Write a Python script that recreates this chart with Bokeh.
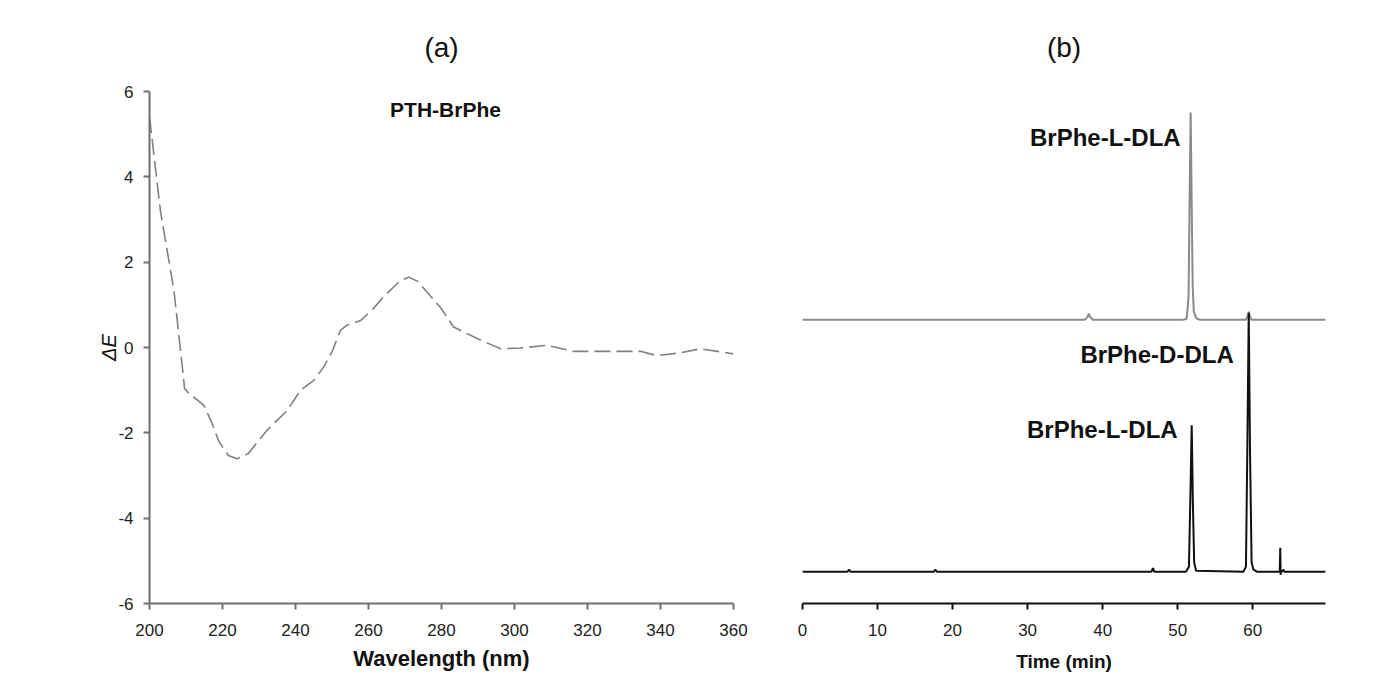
from bokeh.plotting import figure
from bokeh.layouts import row
from bokeh.models import Range1d, FixedTicker, ColumnDataSource
from bokeh.core.properties import value
from bokeh.embed import file_html
from bokeh.resources import INLINE

FONT = "Liberation Sans"

# ---------------- (a) CD spectrum data ----------------
wavelength = [200, 203, 206.7, 208.8, 209.6, 211, 213, 215, 217, 219, 221.6, 224, 227,
              232.2, 237.7, 241.4, 245, 247.7, 250, 252.3, 254, 257.8, 261, 264,
              268.5, 271, 273.5, 276, 279.7, 283.3, 289.8, 296.2, 301.6, 309, 316.2,
              325, 334.5, 339, 345, 351, 360]
delta_e = [5.4, 3.2, 1.33, -0.3, -0.96, -1.1, -1.22, -1.37, -1.75, -2.2, -2.53, -2.61, -2.49,
           -1.94, -1.48, -1.0, -0.77, -0.46, -0.1, 0.40, 0.52, 0.63, 0.88, 1.18,
           1.55, 1.65, 1.55, 1.3, 0.94, 0.48, 0.21, -0.03, -0.01, 0.05, -0.09,
           -0.09, -0.09, -0.19, -0.13, -0.03, -0.15]
cd_ticks_x = [200, 220, 240, 260, 280, 300, 320, 340, 360]
cd_ticks_y = [-6, -4, -2, 0, 2, 4, 6]
cd_label = ["PTH-BrPhe"]
cd_label_x = [281.1]
cd_label_y = [5.57]

# ---------------- (b) chromatograms ----------------
time_top = [0, 37.6, 38.0, 38.15, 38.3, 38.7, 50.7, 51.2, 51.45, 51.6, 51.73, 51.85, 52.0,
            52.15, 52.5, 53.0, 59.1, 59.35, 59.47, 59.6, 59.85, 69.7]
signal_top = [55.4, 55.4, 56.0, 56.6, 56.0, 55.4, 55.4, 55.6, 60.0, 80.0, 95.9, 80.0, 62.0,
              57.0, 55.7, 55.4, 55.4, 56.2, 57.0, 56.2, 55.4, 55.4]

time_bottom = [0, 6.0, 6.2, 6.4, 17.5, 17.7, 17.9, 45.0, 46.5, 46.7, 46.9, 51.1, 51.5,
               51.68, 51.87, 52.02, 52.2, 52.45, 58.75, 59.1, 59.28, 59.47, 59.64, 59.85,
               60.1, 60.6, 63.6, 63.67, 63.72, 63.78, 63.9, 64.1, 64.2, 69.7]
signal_bottom = [6.2, 6.2, 6.6, 6.2, 6.2, 6.6, 6.2, 6.2, 6.2, 6.9, 6.2, 6.2, 7.2,
                 20.0, 34.8, 20.0, 8.0, 6.4, 6.2, 7.2, 30.0, 56.8, 30.0, 8.0,
                 6.6, 6.2, 6.2, 10.9, 5.6, 6.4, 6.2, 6.6, 6.2, 6.2]
time_ticks = [0, 10, 20, 30, 40, 50, 60]
peak_labels = ["BrPhe-L-DLA", "BrPhe-D-DLA", "BrPhe-L-DLA"]
peak_label_x = [50.4, 57.47, 50.0]
peak_label_y = [91.05, 48.6, 34.0]


def style_axis(ax, color, label_size="17px"):
    ax.axis_line_color = color
    ax.axis_line_width = 2
    ax.major_tick_line_color = color
    ax.major_tick_line_width = 2
    ax.major_tick_out = 6
    ax.major_tick_in = 0
    ax.minor_tick_line_color = None
    ax.major_label_text_font = FONT
    ax.major_label_text_font_size = label_size
    ax.major_label_text_color = "#222222"
    ax.major_label_standoff = 14
    ax.axis_label_text_font = FONT
    ax.axis_label_text_color = "#111111"


# ---------- panel (a) ----------
p1 = figure(width=763, height=675, x_range=Range1d(200, 360), y_range=Range1d(-6, 6),
            output_backend="svg", toolbar_location=None,
            min_border_left=149, min_border_right=30, min_border_top=91, min_border_bottom=72)
p1.outline_line_color = None
p1.grid.visible = False
p1.title.text = "(a)"
p1.title.align = "center"
p1.title.text_font = FONT
p1.title.text_font_size = "28px"
p1.title.text_font_style = "normal"
p1.title.text_color = "#111111"
p1.title.standoff = 58

p1.line(wavelength, delta_e, line_color="#808080", line_width=1.6, line_dash="16 6")
p1.text(x=cd_label_x, y=cd_label_y, text=cd_label, text_font=value(FONT),
        text_font_style="bold", text_font_size="21px", text_align="center",
        text_baseline="middle", text_color="#111111")

style_axis(p1.xaxis[0], "#707070")
style_axis(p1.yaxis[0], "#707070")
p1.xaxis.ticker = FixedTicker(ticks=cd_ticks_x)
p1.yaxis.ticker = FixedTicker(ticks=cd_ticks_y)
p1.yaxis.major_label_overrides = {t: str(t) for t in cd_ticks_y}
p1.yaxis.major_label_standoff = 10
p1.xaxis.axis_label = "Wavelength (nm)"
p1.xaxis.axis_label_text_font_style = "bold"
p1.xaxis.axis_label_text_font_size = "22px"
p1.xaxis.axis_label_standoff = 7
p1.yaxis.axis_label = "ΔE"
p1.yaxis.axis_label_text_font_style = "italic"
p1.yaxis.axis_label_text_font_size = "20px"
p1.yaxis.axis_label_standoff = -5

# ---------- panel (b) ----------
p2 = figure(width=592, height=675, x_range=Range1d(0, 69.7), y_range=Range1d(0, 100),
            output_backend="svg", toolbar_location=None, y_axis_location=None,
            min_border_left=39, min_border_right=30, min_border_top=91, min_border_bottom=70)
p2.outline_line_color = None
p2.grid.visible = False
p2.title.text = "(b)"
p2.title.align = "center"
p2.title.text_font = FONT
p2.title.text_font_size = "28px"
p2.title.text_font_style = "normal"
p2.title.text_color = "#111111"
p2.title.standoff = 58

p2.line(time_top, signal_top, line_color="#8a8a8a", line_width=2)
p2.line(time_bottom, signal_bottom, line_color="#111111", line_width=2)
src = ColumnDataSource(dict(x=peak_label_x, y=peak_label_y, t=peak_labels))
p2.text(x="x", y="y", text="t", source=src, text_font=value(FONT),
        text_font_style="bold", text_font_size="24px", text_align="right",
        text_baseline="middle", text_color="#111111")

style_axis(p2.xaxis[0], "#111111")
p2.xaxis.ticker = FixedTicker(ticks=time_ticks)
p2.xaxis.axis_label = "Time (min)"
p2.xaxis.axis_label_text_font_style = "bold"
p2.xaxis.axis_label_text_font_size = "19px"
p2.xaxis.axis_label_standoff = 12

layout = row(p1, p2)
open("out.html", "w").write(file_html(layout, INLINE))
